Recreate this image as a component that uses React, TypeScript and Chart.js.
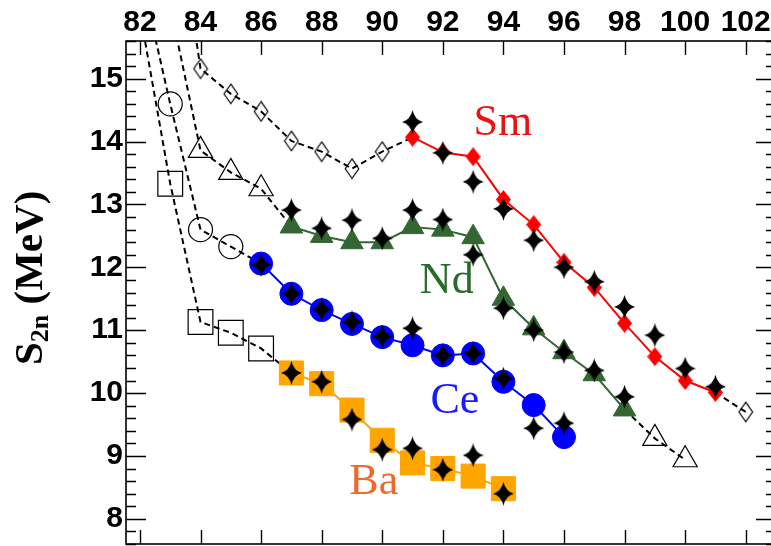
import React, { useEffect, useRef } from "react";
import { Chart, registerables } from "chart.js";

Chart.register(...registerables);

// ---------- data (N = neutron number, S = S2n in MeV) ----------
// Sm
const smN = [91, 92, 93, 94, 95, 96, 97, 98, 99, 100, 101];
const smS = [14.07, 13.83, 13.76, 13.08, 12.68, 12.08, 11.68, 11.11, 10.58, 10.2, 10.01];
const smStarS = [14.31, 13.82, 13.36, 12.93, 12.43, 12.0, 11.77, 11.37, 10.92, 10.39, 10.1];
const smLowN = [83, 84, 85, 86, 87, 88, 89, 90];
const smLowS = [18.4, 15.16, 14.76, 14.48, 14.01, 13.84, 13.57, 13.84];
const smHighN = [102];
const smHighS = [9.7];

// Nd
const ndN = [87, 88, 89, 90, 91, 92, 93, 94, 95, 96, 97, 98];
const ndS = [12.65, 12.5, 12.4, 12.4, 12.64, 12.6, 12.48, 11.5, 11.03, 10.65, 10.3, 9.74];
const ndStarS = [12.91, 12.62, 12.75, 12.46, 12.91, 12.76, 12.2, 11.35, 11.0, 10.65, 10.36, 9.94];
const ndLowN = [83, 84, 85, 86];
const ndLowS = [16.15, 13.86, 13.51, 13.25];
const ndHighN = [99, 100];
const ndHighS = [9.28, 8.94];

// Ce
const ceN = [86, 87, 88, 89, 90, 91, 92, 93, 94, 95, 96];
const ceS = [12.06, 11.58, 11.32, 11.1, 10.89, 10.76, 10.6, 10.63, 10.18, 9.81, 9.3];
const ceStarS = [12.04, 11.58, 11.33, 11.13, 10.9, 11.03, 10.6, 10.63, 10.23, 9.44, 9.52];
const ceLowN = [82, 83, 84, 85];
const ceLowS = [16.72, 14.6, 12.6, 12.33];

// Ba
const baN = [87, 88, 89, 90, 91, 92, 93, 94];
const baS = [10.32, 10.15, 9.73, 9.25, 8.89, 8.8, 8.68, 8.48];
const baStarS = [10.32, 10.18, 9.58, 9.1, 9.12, 8.78, 9.01, 8.4];
const baLowN = [82, 83, 84, 85, 86];
const baLowS = [16.06, 13.33, 11.13, 10.96, 10.71];

// axes
const xTickValues = [82, 84, 86, 88, 90, 92, 94, 96, 98, 100, 102];
const yTickValues = [8, 9, 10, 11, 12, 13, 14, 15];
const X_MIN = 81.54;
const X_MAX = 103.0;
const Y_MIN = 7.6;
const Y_MAX = 15.6;

// element labels (placed in data coordinates)
const elementLabels = [
  { text: "Sm", n: 93.98, s: 14.11, color: "#ee1111" },
  { text: "Nd", n: 92.13, s: 11.59, color: "#2a6a2a" },
  { text: "Ce", n: 92.4, s: 9.68, color: "#1a1aff" },
  { text: "Ba", n: 89.72, s: 8.39, color: "#f0682a" },
];

const zip = (ns: number[], ss: number[]) => ns.map((n, i) => ({ x: n, y: ss[i] }));
const inRange = (pts: { x: number; y: number }[]) => pts.filter((p) => p.y <= Y_MAX && p.y >= Y_MIN);

function makeDiamond(w: number, h: number, fill: string | null, stroke: string, lw: number) {
  const c = document.createElement("canvas");
  c.width = w;
  c.height = h;
  const ctx = c.getContext("2d")!;
  const p = lw ? lw : 0;
  ctx.beginPath();
  ctx.moveTo(w / 2, p);
  ctx.lineTo(w - p, h / 2);
  ctx.lineTo(w / 2, h - p);
  ctx.lineTo(p, h / 2);
  ctx.closePath();
  if (fill) {
    ctx.fillStyle = fill;
    ctx.fill();
  }
  if (lw) {
    ctx.strokeStyle = stroke;
    ctx.lineWidth = lw;
    ctx.stroke();
  }
  return c;
}

function makeStar(w: number, h: number) {
  const c = document.createElement("canvas");
  c.width = w;
  c.height = h;
  const ctx = c.getContext("2d")!;
  const cx = w / 2;
  const cy = h / 2;
  const k = 2.2;
  ctx.beginPath();
  ctx.moveTo(cx, 0);
  ctx.quadraticCurveTo(cx + k, cy - k, w, cy);
  ctx.quadraticCurveTo(cx + k, cy + k, cx, h);
  ctx.quadraticCurveTo(cx - k, cy + k, 0, cy);
  ctx.quadraticCurveTo(cx - k, cy - k, cx, 0);
  ctx.closePath();
  ctx.fillStyle = "#000";
  ctx.fill();
  return c;
}

export default function App() {
  const ref = useRef<HTMLCanvasElement>(null);

  useEffect(() => {
    const canvas = ref.current!;
    const redDiamond = makeDiamond(15, 19, "#ff0000", "#ff0000", 0);
    const openDiamond = makeDiamond(16, 22, null, "#000", 1.2);
    const star = makeStar(21, 24);

    const solid = (data: any[], color: string, style: any, radius: number) => ({
      data,
      showLine: true,
      borderColor: color,
      borderWidth: 2,
      pointStyle: style,
      pointRadius: radius,
      pointBackgroundColor: color,
      pointBorderColor: color,
      pointBorderWidth: 1,
      order: 1,
    });
    const dashed = (data: any[]) => ({
      data,
      showLine: true,
      borderColor: "#000",
      borderWidth: 2,
      borderDash: [6, 4],
      pointRadius: 0,
      order: 3,
    });
    const open = (data: any[], style: any, radius: number) => ({
      data: inRange(data),
      showLine: false,
      pointStyle: style,
      pointRadius: radius,
      pointBackgroundColor: "rgba(0,0,0,0)",
      pointBorderColor: "#000",
      pointBorderWidth: 1.2,
      order: 2,
    });
    const stars = (data: any[]) => ({
      data,
      showLine: false,
      pointStyle: star,
      pointRadius: 11,
      order: 0,
    });

    const sm = zip(smN, smS);
    const nd = zip(ndN, ndS);
    const ce = zip(ceN, ceS);
    const ba = zip(baN, baS);
    const smLow = zip(smLowN, smLowS);
    const smHigh = zip(smHighN, smHighS);
    const ndLow = zip(ndLowN, ndLowS);
    const ndHigh = zip(ndHighN, ndHighS);
    const ceLow = zip(ceLowN, ceLowS);
    const baLow = zip(baLowN, baLowS);

    const datasets: any[] = [
      stars(zip(smN, smStarS)),
      stars(zip(ndN, ndStarS)),
      stars(zip(ceN, ceStarS)),
      stars(zip(baN, baStarS)),
      solid(sm, "#ff0000", redDiamond, 9),
      solid(nd, "#336633", "triangle", 13),
      solid(ce, "#0000ff", "circle", 11.5),
      solid(ba, "#ffa500", "rect", 17),
      open(smLow, openDiamond, 10),
      open(smHigh, openDiamond, 10),
      open(ndLow, "triangle", 14),
      open(ndHigh, "triangle", 14),
      open(ceLow, "circle", 12),
      open(baLow, "rect", 17.5),
      dashed([...smLow, sm[0]]),
      dashed([sm[sm.length - 1], ...smHigh]),
      dashed([...ndLow, nd[0]]),
      dashed([nd[nd.length - 1], ...ndHigh]),
      dashed([...ceLow, ce[0]]),
      dashed([...baLow, ba[0]]),
    ];

    const framePlugin = {
      id: "frame",
      beforeDatasetsDraw(chart: any) {
        const { ctx, scales } = chart;
        ctx.save();
        ctx.textAlign = "center";
        ctx.textBaseline = "alphabetic";
        ctx.font = '44px "Liberation Serif"';
        for (const l of elementLabels) {
          ctx.fillStyle = l.color;
          ctx.fillText(l.text, scales.x.getPixelForValue(l.n), scales.y.getPixelForValue(l.s));
        }
        ctx.restore();
      },
      afterDraw(chart: any) {
        const { ctx, chartArea: a, scales } = chart;
        ctx.save();
        ctx.strokeStyle = "#000";
        ctx.lineWidth = 1.6;
        ctx.strokeRect(a.left, a.top, a.right - a.left, a.bottom - a.top);
        ctx.lineWidth = 1.4;
        ctx.beginPath();
        for (let k = Math.ceil(Y_MIN * 5); k <= Math.floor(Y_MAX * 5); k++) {
          const v = k / 5;
          const y = Math.round(scales.y.getPixelForValue(v)) + 0.5;
          const len = k % 5 === 0 ? 20 : 10;
          ctx.moveTo(a.left, y);
          ctx.lineTo(a.left + len, y);
          ctx.moveTo(a.right, y);
          ctx.lineTo(a.right - len, y);
        }
        for (const v of xTickValues) {
          const x = Math.round(scales.x.getPixelForValue(v)) + 0.5;
          ctx.moveTo(x, a.top);
          ctx.lineTo(x, a.top + 14);
          ctx.moveTo(x, a.bottom);
          ctx.lineTo(x, a.bottom - 14);
        }
        ctx.stroke();

        // y-axis title: S_2n (MeV)
        ctx.translate(42, 365);
        ctx.rotate(-Math.PI / 2);
        ctx.fillStyle = "#000";
        ctx.textAlign = "left";
        ctx.textBaseline = "alphabetic";
        ctx.font = 'bold 41px "Liberation Serif"';
        ctx.fillText("S", 0, 0);
        let off = ctx.measureText("S").width;
        ctx.font = 'bold 26px "Liberation Serif"';
        ctx.fillText("2n", off, 6);
        off += ctx.measureText("2n").width;
        ctx.font = 'bold 41px "Liberation Serif"';
        ctx.fillText(" (MeV)", off, 0);
        ctx.restore();
      },
    };

    const xTickFont = { family: '"Liberation Sans", Arial, sans-serif', weight: "bold" as const, size: 30 };
    // tiny line height so the first/last y labels do not reserve extra layout padding
    const yTickFont = { ...xTickFont, lineHeight: 0.01 };

    const chart = new Chart(canvas, {
      type: "scatter",
      data: { datasets },
      options: {
        animation: false,
        responsive: false,
        devicePixelRatio: 1,
        events: [],
        layout: { autoPadding: false, padding: { left: 0, right: 3, top: 0, bottom: 2 } },
        plugins: { legend: { display: false }, tooltip: { enabled: false } },
        scales: {
          x: {
            type: "linear",
            position: "top",
            min: X_MIN,
            max: X_MAX,
            grid: { display: false, drawTicks: false },
            border: { display: false },
            ticks: {
              font: xTickFont,
              color: "#000",
              padding: 0,
              autoSkip: false,
              maxRotation: 0,
              includeBounds: false,
            },
            afterBuildTicks: (s: any) => {
              s.ticks = xTickValues.map((v) => ({ value: v }));
            },
            afterFit: (s: any) => {
              s.height = 41;
              s.paddingLeft = 0;
              s.paddingRight = 0;
            },
          },
          y: {
            type: "linear",
            position: "left",
            min: Y_MIN,
            max: Y_MAX,
            grid: { display: false, drawTicks: false },
            border: { display: false },
            ticks: {
              font: yTickFont,
              color: "#000",
              padding: 3,
              autoSkip: false,
              includeBounds: false,
            },
            afterBuildTicks: (s: any) => {
              s.ticks = yTickValues.map((v) => ({ value: v }));
            },
            afterFit: (s: any) => {
              s.width = 126;
              s.paddingTop = 0;
              s.paddingBottom = 0;
            },
          },
        },
      } as any,
      plugins: [framePlugin],
    });
    return () => chart.destroy();
  }, []);

  return (
    <div
      style={{
        position: "absolute",
        left: 0,
        top: 0,
        width: 771,
        height: 546,
        overflow: "hidden",
        background: "#fff",
      }}
    >
      <canvas ref={ref} width={779} height={546} style={{ display: "block", width: 779, height: 546 }} />
    </div>
  );
}
